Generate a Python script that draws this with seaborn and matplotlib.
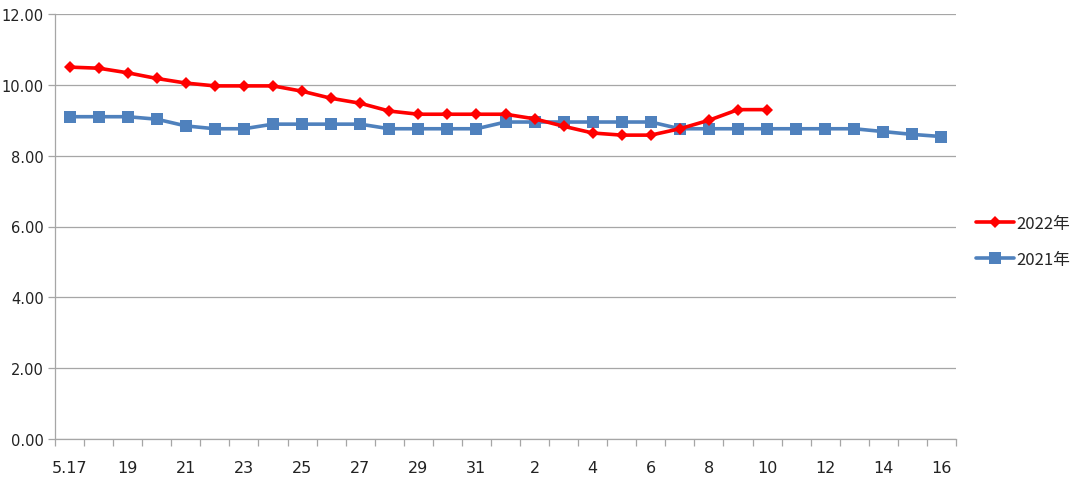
import matplotlib
matplotlib.use("Agg")
import matplotlib.pyplot as plt
import seaborn as sns
import numpy as np
import pandas as pd

dates = ["5.17"] + [str(d) for d in range(18, 32)] + [str(d) for d in range(1, 17)]
vals_2022 = [10.50, 10.47, 10.34, 10.18, 10.05, 9.97, 9.97, 9.97, 9.82, 9.62,
             9.48, 9.26, 9.17, 9.17, 9.17, 9.17, 9.04, 8.83, 8.64, 8.58,
             8.58, 8.76, 9.00, 9.30, 9.30]
vals_2021 = [9.10, 9.10, 9.10, 9.03, 8.84, 8.76, 8.76, 8.89, 8.89, 8.89,
             8.89, 8.76, 8.76, 8.76, 8.76, 8.95, 8.95, 8.95, 8.95, 8.95,
             8.95, 8.76, 8.76, 8.76, 8.76, 8.76, 8.76, 8.76, 8.68, 8.60, 8.54]
series_names = ["2022年", "2021年"]
yticks = [0, 2, 4, 6, 8, 10, 12]

sns.set_theme(style="white")
plt.rcParams['font.family'] = ['DejaVu Sans', 'Noto Sans CJK SC']

fig = plt.figure(figsize=(10.8, 4.89), dpi=100)
ax = fig.add_axes([55/1080, 1-440/489, (956-55)/1080, (440-15)/489])

df22 = pd.DataFrame({"x": np.arange(len(vals_2022)), "y": vals_2022})
df21 = pd.DataFrame({"x": np.arange(len(vals_2021)), "y": vals_2021})

sns.lineplot(data=df21, x="x", y="y", ax=ax, color="#4F81BD", lw=2.6,
             marker="s", markersize=8, markeredgewidth=0, label=series_names[1], zorder=3)
sns.lineplot(data=df22, x="x", y="y", ax=ax, color="#FF0000", lw=2.6,
             marker="D", markersize=6.5, markeredgewidth=0, label=series_names[0], zorder=4)

ax.set_xlim(-0.5, len(dates) - 0.5)
ax.set_ylim(0, 12)
ax.set_yticks(yticks)
ax.set_yticklabels([f"{v:.2f}" for v in yticks], fontsize=10.5, color="#222222")
ax.yaxis.grid(True, color="#A6A6A6", lw=0.9)
ax.xaxis.grid(False)
ax.set_axisbelow(True)

major = list(range(0, len(dates), 2))
ax.set_xticks(major)
ax.set_xticklabels([dates[i] for i in major], fontsize=11.5, color="#222222")
ax.set_xticks(np.arange(-0.5, len(dates), 1.0), minor=True)
ax.tick_params(axis="x", which="major", length=0, pad=15)
ax.tick_params(axis="x", which="minor", length=5, color="#A6A6A6", width=0.9, direction="out", bottom=True)
ax.tick_params(axis="y", which="major", length=5, color="#A6A6A6", width=0.9, left=True, pad=3)

for s in ["top", "right"]:
    ax.spines[s].set_visible(False)
for s in ["left", "bottom"]:
    ax.spines[s].set_color("#A6A6A6")
    ax.spines[s].set_linewidth(0.9)

ax.set_xlabel("")
ax.set_ylabel("")
h, l = ax.get_legend_handles_labels()
ax.legend(h[::-1], l[::-1], loc="center left", bbox_to_anchor=(1.005, 0.465), frameon=False,
          prop={"family": ["Noto Sans CJK SC", "DejaVu Sans"], "size": 12},
          handlelength=2.3, handletextpad=0.15, labelspacing=1.15)

fig.savefig("out.png", dpi=100)
